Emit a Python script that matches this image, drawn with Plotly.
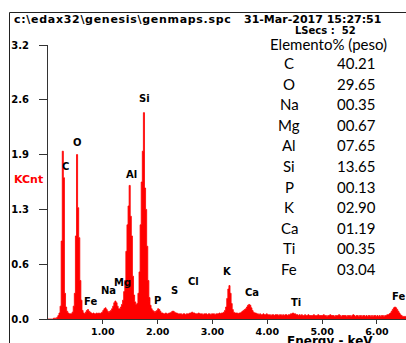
import numpy as np
import plotly.graph_objects as go

# EDS spectrum, counts (KCnt) per 0.02 keV channel starting at 0.00 keV
CHANNEL_KEV = 0.02
counts = [
    0.00, 0.00, 0.00, 0.00, 0.00, 0.01, 0.01, 0.01, 0.02, 0.04,   # 0.00
    0.07, 0.15, 0.91, 1.96, 1.65, 0.30, 0.14, 0.09, 0.07, 0.06,   # 0.20
    0.06, 0.06, 0.08, 0.15, 0.30, 0.97, 1.92, 1.30, 0.95, 0.45,   # 0.40
    0.22, 0.10, 0.07, 0.06, 0.08, 0.10, 0.11, 0.09, 0.08, 0.07,   # 0.60
    0.06, 0.07, 0.06, 0.06, 0.07, 0.06, 0.07, 0.06, 0.07, 0.08,   # 0.80
    0.10, 0.12, 0.13, 0.11, 0.09, 0.08, 0.09, 0.10, 0.12, 0.15,   # 1.00
    0.19, 0.21, 0.19, 0.15, 0.12, 0.12, 0.14, 0.17, 0.22, 0.32,   # 1.20
    0.45, 0.79, 1.10, 1.32, 1.56, 1.20, 0.97, 0.50, 0.28, 0.20,   # 1.40
    0.17, 0.18, 0.30, 0.55, 1.10, 1.60, 1.96, 2.41, 1.53, 1.28,   # 1.60
    0.85, 0.45, 0.25, 0.16, 0.12, 0.10, 0.09, 0.08, 0.09, 0.10,   # 1.80
    0.12, 0.11, 0.09, 0.07, 0.07, 0.06, 0.06, 0.07, 0.06, 0.06,   # 2.00
    0.07, 0.07, 0.08, 0.09, 0.09, 0.08, 0.07, 0.07, 0.06, 0.06,   # 2.20
    0.06, 0.06, 0.05, 0.06, 0.06, 0.05, 0.06, 0.06, 0.06, 0.07,   # 2.40
    0.07, 0.08, 0.07, 0.07, 0.06, 0.06, 0.06, 0.07, 0.06, 0.06,   # 2.60
    0.06, 0.05, 0.06, 0.06, 0.06, 0.05, 0.06, 0.06, 0.05, 0.06,   # 2.80
    0.06, 0.06, 0.05, 0.06, 0.06, 0.06, 0.07, 0.06, 0.07, 0.07,   # 3.00
    0.08, 0.10, 0.14, 0.24, 0.35, 0.39, 0.30, 0.18, 0.11, 0.08,   # 3.20
    0.07, 0.07, 0.07, 0.06, 0.07, 0.07, 0.08, 0.09, 0.10, 0.11,   # 3.40
    0.12, 0.14, 0.16, 0.17, 0.16, 0.13, 0.10, 0.08, 0.07, 0.07,   # 3.60
    0.06, 0.06, 0.05, 0.06, 0.05, 0.05, 0.06, 0.05, 0.05, 0.06,   # 3.80
    0.05, 0.05, 0.05, 0.04, 0.05, 0.05, 0.04, 0.05, 0.05, 0.05,   # 4.00
    0.04, 0.05, 0.05, 0.04, 0.05, 0.04, 0.05, 0.05, 0.04, 0.05,   # 4.20
    0.05, 0.06, 0.06, 0.07, 0.06, 0.06, 0.05, 0.05, 0.04, 0.05,   # 4.40
    0.04, 0.05, 0.04, 0.04, 0.05, 0.04, 0.04, 0.05, 0.04, 0.04,   # 4.60
    0.04, 0.04, 0.05, 0.04, 0.04, 0.04, 0.05, 0.04, 0.04, 0.04,   # 4.80
    0.04, 0.05, 0.04, 0.04, 0.03, 0.04, 0.04, 0.05, 0.04, 0.04,   # 5.00
    0.04, 0.03, 0.04, 0.04, 0.04, 0.05, 0.04, 0.03, 0.04, 0.04,   # 5.20
    0.04, 0.04, 0.03, 0.04, 0.04, 0.04, 0.03, 0.04, 0.05, 0.04,   # 5.40
    0.03, 0.04, 0.04, 0.03, 0.04, 0.04, 0.03, 0.04, 0.04, 0.03,   # 5.60
    0.04, 0.03, 0.04, 0.04, 0.03, 0.04, 0.03, 0.04, 0.04, 0.03,   # 5.80
    0.04, 0.03, 0.04, 0.03, 0.04, 0.04, 0.03, 0.04, 0.04, 0.05,   # 6.00
    0.05, 0.06, 0.07, 0.09, 0.11, 0.13, 0.14, 0.13, 0.11, 0.09,   # 6.20
    0.07, 0.05, 0.04, 0.03, 0.03, 0.03, 0.03,                     # 6.40
]

# Peak labels: element and the (keV, KCnt) spot where the label sits
peak_labels = ["C", "O", "Fe", "Na", "Mg", "Al", "Si", "P", "S", "Cl", "K", "Ca", "Ti", "Fe"]
peak_label_kev = [0.31, 0.53, 0.77, 1.095, 1.35, 1.53, 1.76, 1.99, 2.30, 2.645, 3.28, 3.72, 4.52, 6.385]
peak_label_cnt = [1.78, 2.06, 0.21, 0.33, 0.43, 1.69, 2.58, 0.22, 0.33, 0.44, 0.56, 0.315, 0.19, 0.26]

# Composition table
table_elements = ["C", "O", "Na", "Mg", "Al", "Si", "P", "K", "Ca", "Ti", "Fe"]
table_weight_pct = ["40.21", "29.65", "00.35", "00.67", "07.65", "13.65", "00.13",
                    "02.90", "01.19", "00.35", "03.04"]

# Axis ticks
y_tickvals = [0.0, 0.64, 1.28, 1.92, 2.56, 3.2]
y_ticktext = ["0.0", "0.6", "1.3", "1.9", "2.6", "3.2"]
x_tickvals = [1, 2, 3, 4, 5, 6]
x_ticktext = ["1.00", "2.00", "3.00", "4.00", "5.00", "6.00"]

W, H = 406, 343
ML, MR, MT, MB = 48, 0, 45, 24
PW, PH = W - ML - MR, H - MT - MB


def paper(xp, yp):
    """Pixel position in the page -> paper coordinates."""
    return (xp - ML) / PW, (H - MB - yp) / PH


energy = np.arange(len(counts)) * CHANNEL_KEV
x_step = list(energy) + [energy[-1] + CHANNEL_KEV]
y_step = list(counts) + [counts[-1]]

BOLD = dict(family="DejaVu Sans", color="black", weight="bold")
RED = "#ff0000"

fig = go.Figure()
fig.add_trace(go.Scatter(
    x=x_step, y=y_step, mode="lines", line_shape="hv",
    line=dict(color=RED, width=0.8), fill="tozeroy", fillcolor=RED,
    hoverinfo="skip", showlegend=False,
))

annotations = []
for name, ek, ec in zip(peak_labels, peak_label_kev, peak_label_cnt):
    annotations.append(dict(x=ek, y=ec, xref="x", yref="y", text=name, showarrow=False,
                            font=dict(BOLD, size=10), xanchor="center", yanchor="middle"))

# header line
x0, y0 = paper(13, 19.5)
annotations.append(dict(x=x0, y=y0, xref="paper", yref="paper", showarrow=False, borderpad=0,
                        text='<span style="letter-spacing:0.7px">c:\\edax32\\genesis\\genmaps.spc</span>',
                        xanchor="left", yanchor="middle", font=dict(BOLD, size=11)))
x0, y0 = paper(243, 19.5)
annotations.append(dict(x=x0, y=y0, xref="paper", yref="paper", showarrow=False, borderpad=0,
                        text="31-Mar-2017 15:27:51", xanchor="left", yanchor="middle",
                        font=dict(BOLD, size=11)))
x0, y0 = paper(325, 30)
annotations.append(dict(x=x0, y=y0, xref="paper", yref="paper", showarrow=False, borderpad=0,
                        text="LSecs :  52", xanchor="center", yanchor="middle",
                        font=dict(BOLD, size=10)))
# y axis name
x0, y0 = paper(12, 179)
annotations.append(dict(x=x0, y=y0, xref="paper", yref="paper", showarrow=False,
                        text="KCnt", xanchor="left", yanchor="middle",
                        font=dict(BOLD, size=11, color=RED)))
# x axis name
x0, y0 = paper(330, 333)
annotations.append(dict(x=x0, y=y0, xref="paper", yref="paper", showarrow=False, borderpad=0,
                        text="Energy - keV", xanchor="center", yanchor="top",
                        font=dict(BOLD, size=12)))

# composition table
TABLE_FONT = dict(family="Lato", size=15, color="black")
x0, y0 = paper(328, 44)
annotations.append(dict(x=x0, y=y0, xref="paper", yref="paper", showarrow=False,
                        text="Elemento% (peso)", xanchor="center", yanchor="middle",
                        font=TABLE_FONT))
for i, (el, val) in enumerate(zip(table_elements, table_weight_pct)):
    yp = 63 + 20.6 * i
    xa, ya = paper(289, yp)
    annotations.append(dict(x=xa, y=ya, xref="paper", yref="paper", showarrow=False,
                            text=el, xanchor="center", yanchor="middle", font=TABLE_FONT))
    xb, yb = paper(356, yp)
    annotations.append(dict(x=xb, y=yb, xref="paper", yref="paper", showarrow=False,
                            text=val, xanchor="center", yanchor="middle", font=TABLE_FONT))

# outer frame (runs off the right and bottom of the page)
fx0, fy1 = paper(9.5, 12.5)
fig.add_shape(type="rect", xref="paper", yref="paper", x0=fx0, x1=1.2, y0=-0.3, y1=fy1,
              line=dict(color="#222222", width=1), fillcolor="rgba(0,0,0,0)", layer="above")

AX = "#333333"
fig.update_layout(
    width=W, height=H,
    margin=dict(l=ML, r=MR, t=MT, b=MB, pad=0),
    paper_bgcolor="white", plot_bgcolor="white",
    showlegend=False,
    annotations=annotations,
    xaxis=dict(range=[0, 6.53], tickmode="array", tickvals=x_tickvals, ticktext=x_ticktext,
               ticks="outside", ticklen=4, tickwidth=1, tickcolor=AX,
               showline=True, linecolor=AX, linewidth=1, showgrid=False, zeroline=False,
               tickfont=dict(BOLD, size=9.5), ticklabelstandoff=0),
    yaxis=dict(range=[0, 3.2], tickmode="array", tickvals=y_tickvals, ticktext=y_ticktext,
               ticks="outside", ticklen=8, tickwidth=1, tickcolor=AX,
               showline=True, linecolor=AX, linewidth=1, showgrid=False, zeroline=False,
               tickfont=dict(BOLD, size=10), ticklabelstandoff=8),
)

fig.write_html("out.html")
